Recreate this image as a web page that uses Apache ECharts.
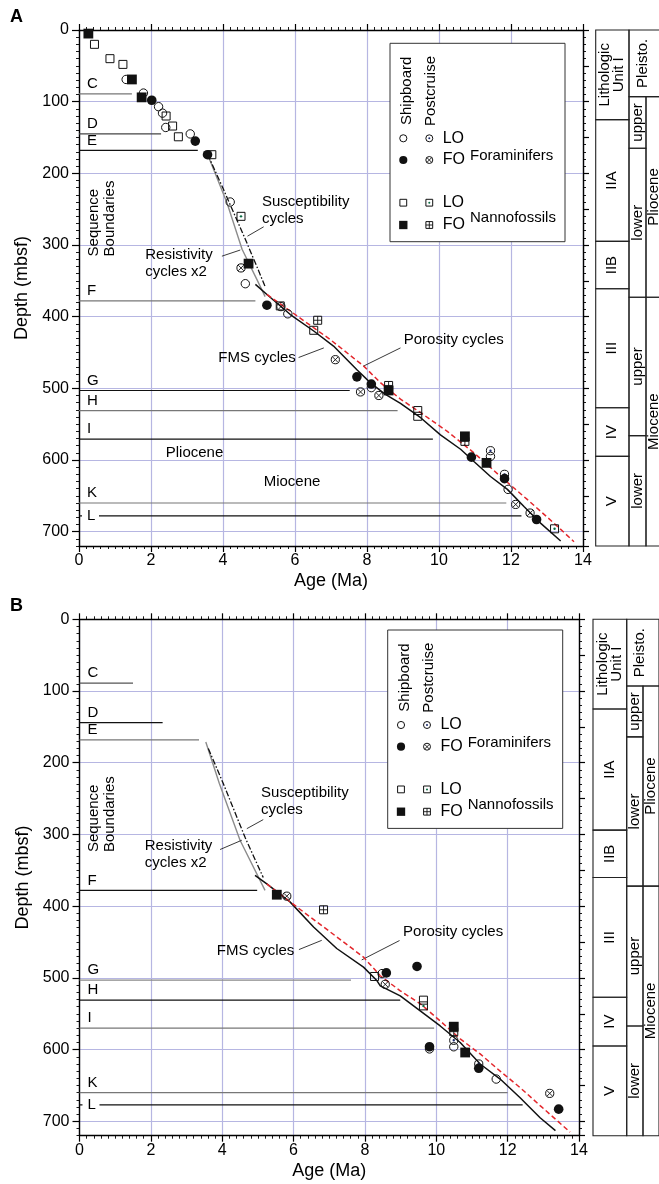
<!DOCTYPE html>
<html><head><meta charset="utf-8">
<script src="https://cdn.jsdelivr.net/npm/echarts@6/dist/echarts.min.js"></script>
<style>html,body{margin:0;padding:0;background:#fff}#c{width:659px;height:1184px}</style>
</head><body><div id="c"></div>
<script>
const FONT = "'Liberation Sans', Arial, Helvetica, sans-serif";
const ageMax = 14, depthMax = 720;

// ---------- Panel A datums [age (Ma), depth (mbsf)] ----------
const shipLoForamA = [[1.31,69],[1.79,88],[2.21,107],[2.32,116],[2.41,136],[3.09,145],[4.20,240],[4.62,354],[5.80,396],[8.12,499],[11.43,595],[11.92,641]];
const shipFoForamA = [[2.02,98],[3.23,155],[3.57,174],[5.22,384],[7.72,484],[8.12,494],[10.90,596],[11.82,626],[12.71,683]];
const postLoForamA = [[11.43,587],[11.82,620]];
const postFoForamA = [[4.50,332],[5.61,386],[7.12,460],[7.82,505],[8.33,510],[12.13,662],[12.53,674]];
const shipLoNannoA = [[0.43,20],[0.86,40],[1.22,48],[2.42,120],[2.60,134],[2.76,149],[3.69,174],[5.59,385],[6.52,419],[9.41,531],[9.41,539]];
const shipFoNannoA = [[0.26,5],[1.47,69],[1.74,94],[4.71,326],[8.60,503],[10.72,567],[11.32,604]];
const postLoNannoA = [[4.50,260],[13.21,696]];
const postFoNannoA = [[6.63,405],[8.60,496],[10.72,574]];

// ---------- Panel B datums ----------
const shipLoForamB = [[8.48,494],[9.81,599],[10.49,596],[11.68,641]];
const shipFoForamB = [[8.60,493],[9.46,484],[9.81,596],[11.19,626],[13.43,683]];
const postLoForamB = [[10.49,587],[11.19,620]];
const postFoForamB = [[5.81,386],[8.57,509],[13.18,661]];
const shipLoNannoB = [[8.27,498],[9.64,531]];
const shipFoNannoB = [[5.53,384],[10.49,568],[10.81,604]];
const postLoNannoB = [[9.64,539]];
const postFoNannoB = [[6.84,405],[10.49,575]];

// ---------- Cycle-based age models ----------
const fmsA = [[4.90,355],[5.22,369],[5.87,397],[6.52,420],[7.07,441],[7.72,474],[8.09,492],[8.50,508],[8.93,521],[9.49,541],[10.04,565],[10.60,585],[10.97,602],[11.43,623],[11.90,641],[12.36,665],[12.82,688],[13.38,713]];
const porosityA = [[5.22,369],[6.06,399],[6.98,432],[7.91,469],[8.37,492],[8.93,515],[9.49,534],[10.23,560],[10.97,590],[11.71,623],[12.45,655],[13.19,688],[13.75,714]];
const suscA = [[3.57,173],[4.01,222],[4.62,292],[4.94,330],[5.17,358]];
const resistA = [[3.55,171],[4.11,241],[4.53,306],[4.94,348],[5.17,372]];

const fmsB = [[4.92,357],[5.25,369],[5.90,394],[6.56,429],[7.21,459],[7.96,485],[8.34,504],[8.43,511],[8.99,525],[9.55,546],[10.11,567],[10.67,590],[11.23,620],[11.79,641],[12.35,667],[12.91,695],[13.34,713]];
const porosityB = [[5.25,369],[6.09,401],[7.03,436],[7.96,471],[8.43,497],[8.99,518],[9.55,536],[10.11,560],[10.67,585],[11.23,606],[11.79,630],[12.35,653],[12.91,678],[13.75,715]];
const suscB = [[3.61,180],[4.03,229],[4.64,304],[5.15,360]];
const resistB = [[3.54,171],[3.92,229],[4.50,308],[5.20,378]];

// ---------- Sequence boundaries ----------
const seqNames = ['C','D','E','F','G','H','I','K','L'];
const seqDepthA = [89,145,168,378,503,531,571,660,678];
const seqEndA   = [1.47,2.28,3.30,4.90,7.52,8.85,9.83,11.87,12.29];
const seqDepthB = [89,144,168,378,503,531,570,660,677];
const seqEndB   = [1.50,2.33,3.35,4.98,7.61,8.99,9.94,12.00,12.42];
const seqShadeA = ['#777','#444','#111','#777','#111','#777','#111','#777','#111'];
const seqShadeB = ['#555','#111','#777','#111','#888','#111','#777','#777','#111'];

// ---------- Lithology / chronostratigraphy column ----------
const unitNames = ['Lithologic\nUnit I','IIA','IIB','III','IV','V'];
const unitTopsA = [0,125,295,361,527,595];
const unitTopsB = [0,125,294,360,527,595];
const epochNames = ['Pliocene','Miocene'];
const epochTopsA = [93,373];
const epochTopsB = [93,372];
const subNames = ['upper','lower','upper','lower'];
const subTopsA = [93,165,373,566];
const subTopsB = [93,164,372,567];
const pleistoName = 'Pleisto.';

// ---------- layout (not data) ----------
const GRIDC = '#b6b6e2';
const annA = [
  {t:'Susceptibility\ncycles', at:[5.08,251.5], leader:[[5.13,274.6],[4.68,287.7]]},
  {t:'Resistivity\ncycles x2', at:[1.84,325], leader:[[3.97,315.6],[4.48,307]]},
  {t:'FMS cycles', at:[3.87,457.5], leader:[[6.10,457],[6.80,443.6]]},
  {t:'Porosity cycles', at:[9.02,433], leader:[[8.93,443.6],[7.89,469.3]]},
  {t:'Pliocene', at:[2.41,589.4]},
  {t:'Miocene', at:[5.13,630]},
  {t:'Sequence\nBoundaries', at:[0.64,316], rot:true}
];
const annB = [
  {t:'Susceptibility\ncycles', at:[5.09,254.5], leader:[[5.15,279.3],[4.69,291.9]]},
  {t:'Resistivity\ncycles x2', at:[1.83,327.5], leader:[[3.94,321],[4.55,308]]},
  {t:'FMS cycles', at:[3.85,462], leader:[[6.15,460.5],[6.79,447.6]]},
  {t:'Porosity cycles', at:[9.07,436.3], leader:[[8.97,447.9],[7.91,474.9]]},
  {t:'Sequence\nBoundaries', at:[0.64,324.6], rot:true}
];

function txt(x, y, text, opt) {
  opt = opt || {};
  return {type:'text', x:x, y:y, rotation: opt.rot ? Math.PI/2 : 0, z: opt.z || 0,
    style:{text:text, x:0, y:0, font:(opt.weight||'normal')+' '+(opt.size||15)+'px '+FONT, fill:'#000',
      align:opt.align||'left', textAlign:opt.align||'left',
      verticalAlign:opt.va||'middle', textVerticalAlign:opt.va||'middle', lineHeight:opt.lh||16}};
}

function glyph(kind, x, y, z, s) {
  s = s || 1;
  const K = '#111';
  const ring = r => ({type:'circle', z:z, shape:{cx:x, cy:y, r:r*s}, style:{fill:'none', stroke:K, lineWidth:1}});
  const box = h => ({type:'rect', z:z, shape:{x:x-h*s, y:y-h*s, width:2*h*s, height:2*h*s}, style:{fill:'none', stroke:K, lineWidth:1}});
  const seg = (x1,y1,x2,y2) => ({type:'line', z:z, shape:{x1:x1,y1:y1,x2:x2,y2:y2}, style:{stroke:K, lineWidth:0.9}});
  const dot = (c) => ({type:'circle', z:z, shape:{cx:x, cy:y, r:1.2*s}, style:{fill:c}});
  switch (kind) {
    case 'oc': return [ring(4.2)];
    case 'fc': return [{type:'circle', z:z, shape:{cx:x, cy:y, r:4.8*s}, style:{fill:K}}];
    case 'cd': return [ring(4.1), dot('#1b2a6b')];
    case 'cx': { const d = 2.8*s; return [ring(4.1), seg(x-d,y-d,x+d,y+d), seg(x-d,y+d,x+d,y-d)]; }
    case 'os': return [box(4.0)];
    case 'fs': return [{type:'rect', z:z, shape:{x:x-4.9*s, y:y-4.9*s, width:9.8*s, height:9.8*s}, style:{fill:K}}];
    case 'sd': return [box(4.0), dot('#0b6b44')];
    case 'sp': { const h = 4.0*s; return [box(4.0), seg(x-h,y,x+h,y), seg(x,y-h,x,y+h)]; }
  }
  return [];
}

function markerSeries(name, kind, data, ai) {
  return {type:'custom', name:name, xAxisIndex:ai, yAxisIndex:ai, data:data, z:10, clip:false, silent:true,
    renderItem:(p, api) => {
      const c = api.coord([api.value(0), api.value(1)]);
      return {type:'group', children: glyph(kind, c[0], c[1], 0, 1)};
    }};
}

function lineSeries(name, data, color, type, width, ai, z) {
  return {type:'line', name:name, data:data, xAxisIndex:ai, yAxisIndex:ai, showSymbol:false, symbol:'none',
    lineStyle:{color:color, width:width, type:type}, z:z, silent:true};
}

function seqSeries(depths, ends, shades, ai) {
  return {type:'custom', xAxisIndex:ai, yAxisIndex:ai, z:4, silent:true, clip:false,
    data: depths.map((d,i)=>[ends[i], d]),
    renderItem:(p, api) => {
      const i = p.dataIndex;
      const a = api.coord([0, depths[i]]), b = api.coord([ends[i], depths[i]]);
      const ch = [{type:'line', shape:{x1:a[0], y1:a[1], x2:b[0], y2:b[1]}, style:{stroke:shades[i], lineWidth:1.2}}];
      if (seqNames[i] === 'L') {
        ch.push({type:'rect', shape:{x:a[0]+3, y:a[1]-3, width:17, height:6}, style:{fill:'#fff'}});
        ch.push(txt(a[0]+8, a[1], 'L', {size:15}));
      } else {
        ch.push(txt(a[0]+8, a[1]-2, seqNames[i], {size:15, va:'bottom'}));
      }
      return {type:'group', children:ch};
    }};
}

function annSeries(ann, ai) {
  return {type:'custom', xAxisIndex:ai, yAxisIndex:ai, z:6, silent:true, clip:false,
    data: ann.map(a=>a.at),
    renderItem:(p, api) => {
      const a = ann[p.dataIndex];
      const c = api.coord(a.at);
      const ch = [];
      if (a.rot) ch.push(txt(c[0], c[1], a.t, {rot:true, size:15, lh:16}));
      else ch.push(txt(c[0], c[1], a.t, {size:15, lh:17}));
      if (a.leader) {
        const p1 = api.coord(a.leader[0]), p2 = api.coord(a.leader[1]);
        ch.push({type:'line', shape:{x1:p1[0], y1:p1[1], x2:p2[0], y2:p2[1]}, style:{stroke:'#222', lineWidth:0.9}});
      }
      return {type:'group', children:ch};
    }};
}

// lithology column: x in px-units of the column grid
function lithoCells(unitTops, epochTops, subTops, c1, c2, c3) {
  const cells = [];
  unitTops.forEach((t,i)=>cells.push({x0:0, x1:c1, top:t, bot: i+1<unitTops.length ? unitTops[i+1] : depthMax, text:unitNames[i]}));
  cells.push({x0:c1, x1:c3, top:0, bot:epochTops[0], text:pleistoName, tx:47.3});
  subTops.forEach((t,i)=>cells.push({x0:c1, x1:c2, top:t, bot: i+1<subTops.length ? subTops[i+1] : depthMax, text:subNames[i]}));
  epochTops.forEach((t,i)=>cells.push({x0:c2, x1:c3, top:t, bot: i+1<epochTops.length ? epochTops[i+1] : depthMax, text:epochNames[i]}));
  return cells;
}
function lithoSeries(cells, ai) {
  return {type:'custom', xAxisIndex:ai, yAxisIndex:ai, silent:true, clip:false,
    data: cells.map(c=>[c.x0, c.top]),
    renderItem:(p, api) => {
      const c = cells[p.dataIndex];
      const a = api.coord([c.x0, c.top]), b = api.coord([c.x1, c.bot]);
      const cx = c.tx !== undefined ? api.coord([c.tx, 0])[0] : (a[0]+b[0])/2;
      return {type:'group', children:[
        {type:'rect', shape:{x:a[0], y:a[1], width:b[0]-a[0], height:b[1]-a[1]}, style:{fill:'none', stroke:'#222', lineWidth:1.1}},
        txt(cx, (a[1]+b[1])/2, c.text, {rot:true, align:'center', size:15, lh:14})
      ]};
    }};
}

function legendEls(x0, y0) {
  const Z = 100;
  const els = [{type:'rect', z:Z, shape:{x:x0, y:y0, width:175, height:198.4}, style:{fill:'#fff', stroke:'#333', lineWidth:1}}];
  els.push(txt(x0+16.7, y0+81.7, 'Shipboard', {rot:true, size:15, z:Z+1}));
  els.push(txt(x0+41, y0+82.7, 'Postcruise', {rot:true, size:15, z:Z+1}));
  const rows = [['oc','cd','LO',95],['fc','cx','FO',116.7],['os','sd','LO',159.4],['fs','sp','FO',181.7]];
  rows.forEach(r => {
    glyph(r[0], x0+13.3, y0+r[3], Z+1, 0.85).forEach(e=>els.push(e));
    glyph(r[1], x0+39.3, y0+r[3], Z+1, 0.85).forEach(e=>els.push(e));
    els.push(txt(x0+52.7, y0+r[3], r[2], {size:16, z:Z+1}));
  });
  els.push(txt(x0+80, y0+112.4, 'Foraminifers', {size:15, z:Z+1}));
  els.push(txt(x0+80, y0+174.4, 'Nannofossils', {size:15, z:Z+1}));
  return els;
}

// ---------- axes ----------
function xAx(gi, pos, major, showLab) {
  return {gridIndex:gi, type:'value', min:0, max:ageMax, interval: major ? 2 : 0.2, position:pos, silent:true,
    axisLine:{show:major, onZero:false, lineStyle:{color:'#000', width:1.4}},
    axisTick:{show:true, inside:false, length: major ? 6 : 3, lineStyle:{color:'#000', width: major ? 1.2 : 0.9}},
    axisLabel:{show:showLab, color:'#000', fontSize:16, fontFamily:FONT, margin:7},
    splitLine:{show:showLab, lineStyle:{color:GRIDC, width:1.2}},
    name: showLab ? 'Age (Ma)' : '', nameLocation:'middle', nameGap:26,
    nameTextStyle:{color:'#000', fontSize:18, fontFamily:FONT}};
}
function yAx(gi, pos, interval, tickLen, showLab, axisLine) {
  return {gridIndex:gi, type:'value', inverse:true, min:0, max:depthMax, interval:interval, position:pos, silent:true,
    axisLine:{show:axisLine, onZero:false, lineStyle:{color:'#000', width:1.4}},
    axisTick:{show:true, inside:false, length:tickLen, lineStyle:{color:'#000', width: tickLen > 4 ? 1.2 : 0.9}},
    axisLabel:{show:showLab, showMaxLabel:false, color:'#000', fontSize:16, fontFamily:FONT, margin:10},
    splitLine:{show:showLab, lineStyle:{color:GRIDC, width:1.2}},
    name: showLab ? 'Depth (mbsf)' : '', nameLocation:'middle', nameGap:47,
    nameTextStyle:{color:'#000', fontSize:18, fontFamily:FONT}};
}
function hidAx(gi, max, inv) {
  return {gridIndex:gi, type:'value', min:0, max:max, inverse:!!inv, show:false};
}

const xAxis = [
  xAx(0,'bottom',true,true), xAx(0,'bottom',false,false), xAx(0,'top',true,false), xAx(0,'top',false,false),
  xAx(1,'bottom',true,true), xAx(1,'bottom',false,false), xAx(1,'top',true,false), xAx(1,'top',false,false),
  hidAx(2,66,false), hidAx(3,66,false)
];
const yAxis = [
  yAx(0,'left',100,7,true,true), yAx(0,'left',10,3,false,false), yAx(0,'right',50,6,false,true), yAx(0,'right',10,3,false,false),
  yAx(1,'left',100,7,true,true), yAx(1,'left',10,3,false,false), yAx(1,'right',50,6,false,true), yAx(1,'right',10,3,false,false),
  hidAx(2,depthMax,true), hidAx(3,depthMax,true)
];

function panelSeries(ai, d) {
  return [
    lineSeries('Resistivity cycles x2', d.res, '#8c8c8c', 'solid', 1.4, ai, 5),
    lineSeries('Susceptibility cycles', d.sus, '#111', [6,2,1.5,2], 1.3, ai, 5),
    lineSeries('FMS cycles', d.fms, '#111', 'solid', 1.5, ai, 5),
    lineSeries('Porosity cycles', d.por, '#e3262b', [5,3], 1.5, ai, 6),
    markerSeries('Shipboard LO foraminifers','oc', d.oc, ai),
    markerSeries('Postcruise LO foraminifers','cd', d.cd, ai),
    markerSeries('Postcruise FO foraminifers','cx', d.cx, ai),
    markerSeries('Shipboard LO nannofossils','os', d.os, ai),
    markerSeries('Postcruise LO nannofossils','sd', d.sd, ai),
    markerSeries('Postcruise FO nannofossils','sp', d.sp, ai),
    markerSeries('Shipboard FO nannofossils','fs', d.fs, ai),
    markerSeries('Shipboard FO foraminifers','fc', d.fc, ai)
  ];
}

const series = [].concat(
  panelSeries(0, {res:resistA, sus:suscA, fms:fmsA, por:porosityA, oc:shipLoForamA, fc:shipFoForamA, cd:postLoForamA, cx:postFoForamA, os:shipLoNannoA, fs:shipFoNannoA, sd:postLoNannoA, sp:postFoNannoA}),
  [seqSeries(seqDepthA, seqEndA, seqShadeA, 0), annSeries(annA, 0)],
  panelSeries(4, {res:resistB, sus:suscB, fms:fmsB, por:porosityB, oc:shipLoForamB, fc:shipFoForamB, cd:postLoForamB, cx:postFoForamB, os:shipLoNannoB, fs:shipFoNannoB, sd:postLoNannoB, sp:postFoNannoB}),
  [seqSeries(seqDepthB, seqEndB, seqShadeB, 4), annSeries(annB, 4)],
  [lithoSeries(lithoCells(unitTopsA, epochTopsA, subTopsA, 33.3, 50.3, 66), 8),
   lithoSeries(lithoCells(unitTopsB, epochTopsB, subTopsB, 33.7, 50, 66), 9)]
);

const graphic = [].concat(
  legendEls(390, 43.3),
  legendEls(387.7, 630),
  [txt(10, 17, 'A', {size:18, weight:'bold'}), txt(10, 606, 'B', {size:18, weight:'bold'})]
);

const chart = echarts.init(document.getElementById('c'), null, {renderer:'canvas'});
chart.setOption({
  animation:false,
  backgroundColor:'#fff',
  grid:[
    {left:79, top:30, width:504, height:516, outerBoundsMode:'none'},
    {left:79.5, top:619.3, width:499.5, height:516.4, outerBoundsMode:'none'},
    {left:595.7, top:30, width:66, height:516, outerBoundsMode:'none'},
    {left:593, top:619.3, width:66, height:516.4, outerBoundsMode:'none'}
  ],
  xAxis: xAxis,
  yAxis: yAxis,
  series: series,
  graphic: graphic
});
</script></body></html>
